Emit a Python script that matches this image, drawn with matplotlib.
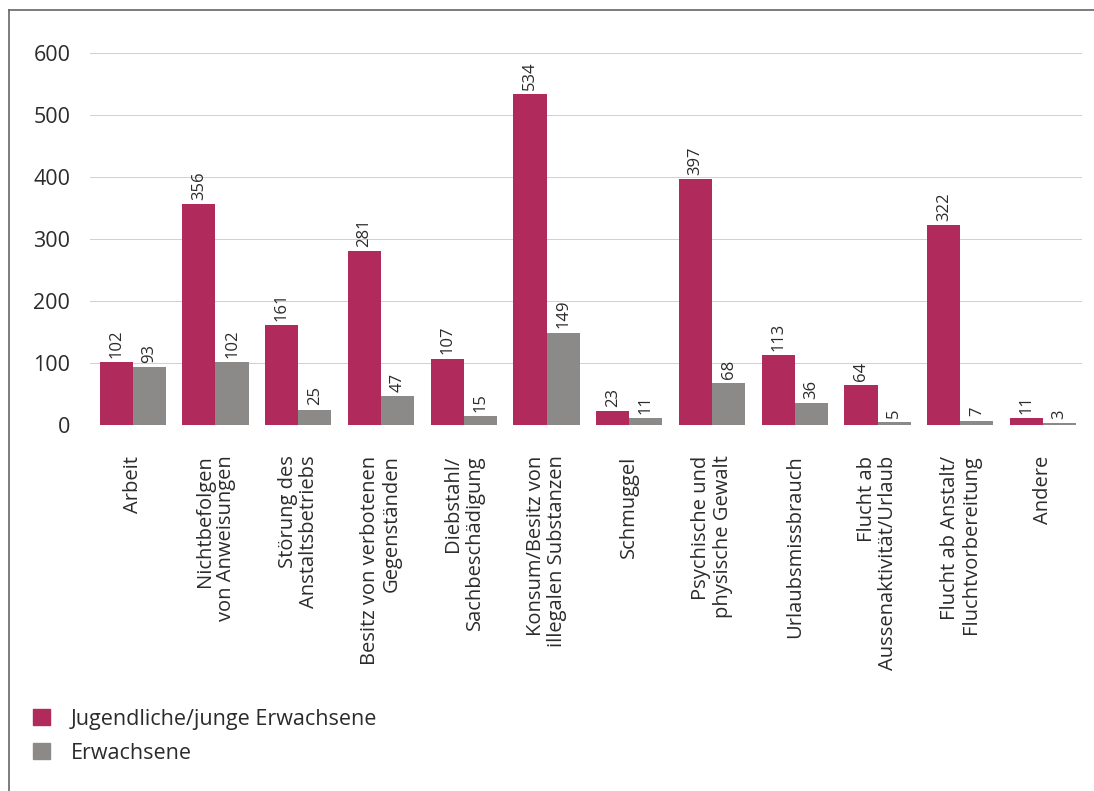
import matplotlib
matplotlib.use("Agg")
import matplotlib.pyplot as plt
import numpy as np
from matplotlib.patches import Patch
from matplotlib.lines import Line2D

plt.rcParams['font.family'] = ['Open Sans', 'DejaVu Sans']

categories = ["Arbeit", "Nichtbefolgen\nvon Anweisungen", "Störung des\nAnstaltsbetriebs",
              "Besitz von verbotenen\nGegenständen", "Diebstahl/\nSachbeschädigung",
              "Konsum/Besitz von\nillegalen Substanzen", "Schmuggel",
              "Psychische und\nphysische Gewalt", "Urlaubsmissbrauch",
              "Flucht ab\nAussenaktivität/Urlaub", "Flucht ab Anstalt/\nFluchtvorbereitung",
              "Andere"]
jugendliche = [102, 356, 161, 281, 107, 534, 23, 397, 113, 64, 322, 11]
erwachsene = [93, 102, 25, 47, 15, 149, 11, 68, 36, 5, 7, 3]
series_names = ["Jugendliche/junge Erwachsene", "Erwachsene"]
yticks = [0, 100, 200, 300, 400, 500, 600]

col_j = "#b02a5b"
col_e = "#8c8a88"
txt = "#2b2b2b"

fig = plt.figure(figsize=(10.94, 7.91), dpi=100)
ax = fig.add_axes([0.082, 0.4627, 0.907, 0.4703])

x = np.arange(len(categories))
w = 0.4
b1 = ax.bar(x - w / 2, jugendliche, w, color=col_j, zorder=2)
b2 = ax.bar(x + w / 2, erwachsene, w, color=col_e, zorder=2)

for bars, vals in [(b1, jugendliche), (b2, erwachsene)]:
    for b, v in zip(bars, vals):
        ax.annotate(str(v), (b.get_x() + b.get_width() / 2, v), xytext=(0, 3),
                    textcoords="offset points", rotation=90, ha="center", va="bottom",
                    fontsize=12, color=txt)

ax.set_xlim(-0.52, 11.47)
ax.set_ylim(0, 600)
ax.set_yticks(yticks)
ax.set_yticklabels([str(t) for t in yticks], fontsize=15.5, color=txt)
ax.set_xticks(x)
ax.set_xticklabels(categories, rotation=90, fontsize=14.5, color=txt,
                   va="top", ha="center", multialignment="right", linespacing=1.1)
ax.tick_params(axis="both", length=0)
ax.tick_params(axis="y", pad=14)
ax.tick_params(axis="x", pad=22)
ax.grid(axis="y", color="#d0d0d0", linewidth=0.7, zorder=0)
for s in ax.spines.values():
    s.set_visible(False)

handles = [Patch(color=col_j), Patch(color=col_e)]
fig.legend(handles, series_names, loc="upper left", bbox_to_anchor=(0.030, 0.104),
           frameon=False, fontsize=15.5, handlelength=0.8, handleheight=0.8,
           handletextpad=0.95, labelspacing=0.6, borderpad=0, borderaxespad=0,
           labelcolor=txt)

# frame lines of the scanned page
fig.add_artist(Line2D([9 / 1094, 1], [1 - 10 / 791, 1 - 10 / 791], color="#666666", linewidth=1.2))
fig.add_artist(Line2D([9 / 1094, 9 / 1094], [0, 1 - 10 / 791], color="#666666", linewidth=1.2))

fig.savefig("out.png", dpi=100)
